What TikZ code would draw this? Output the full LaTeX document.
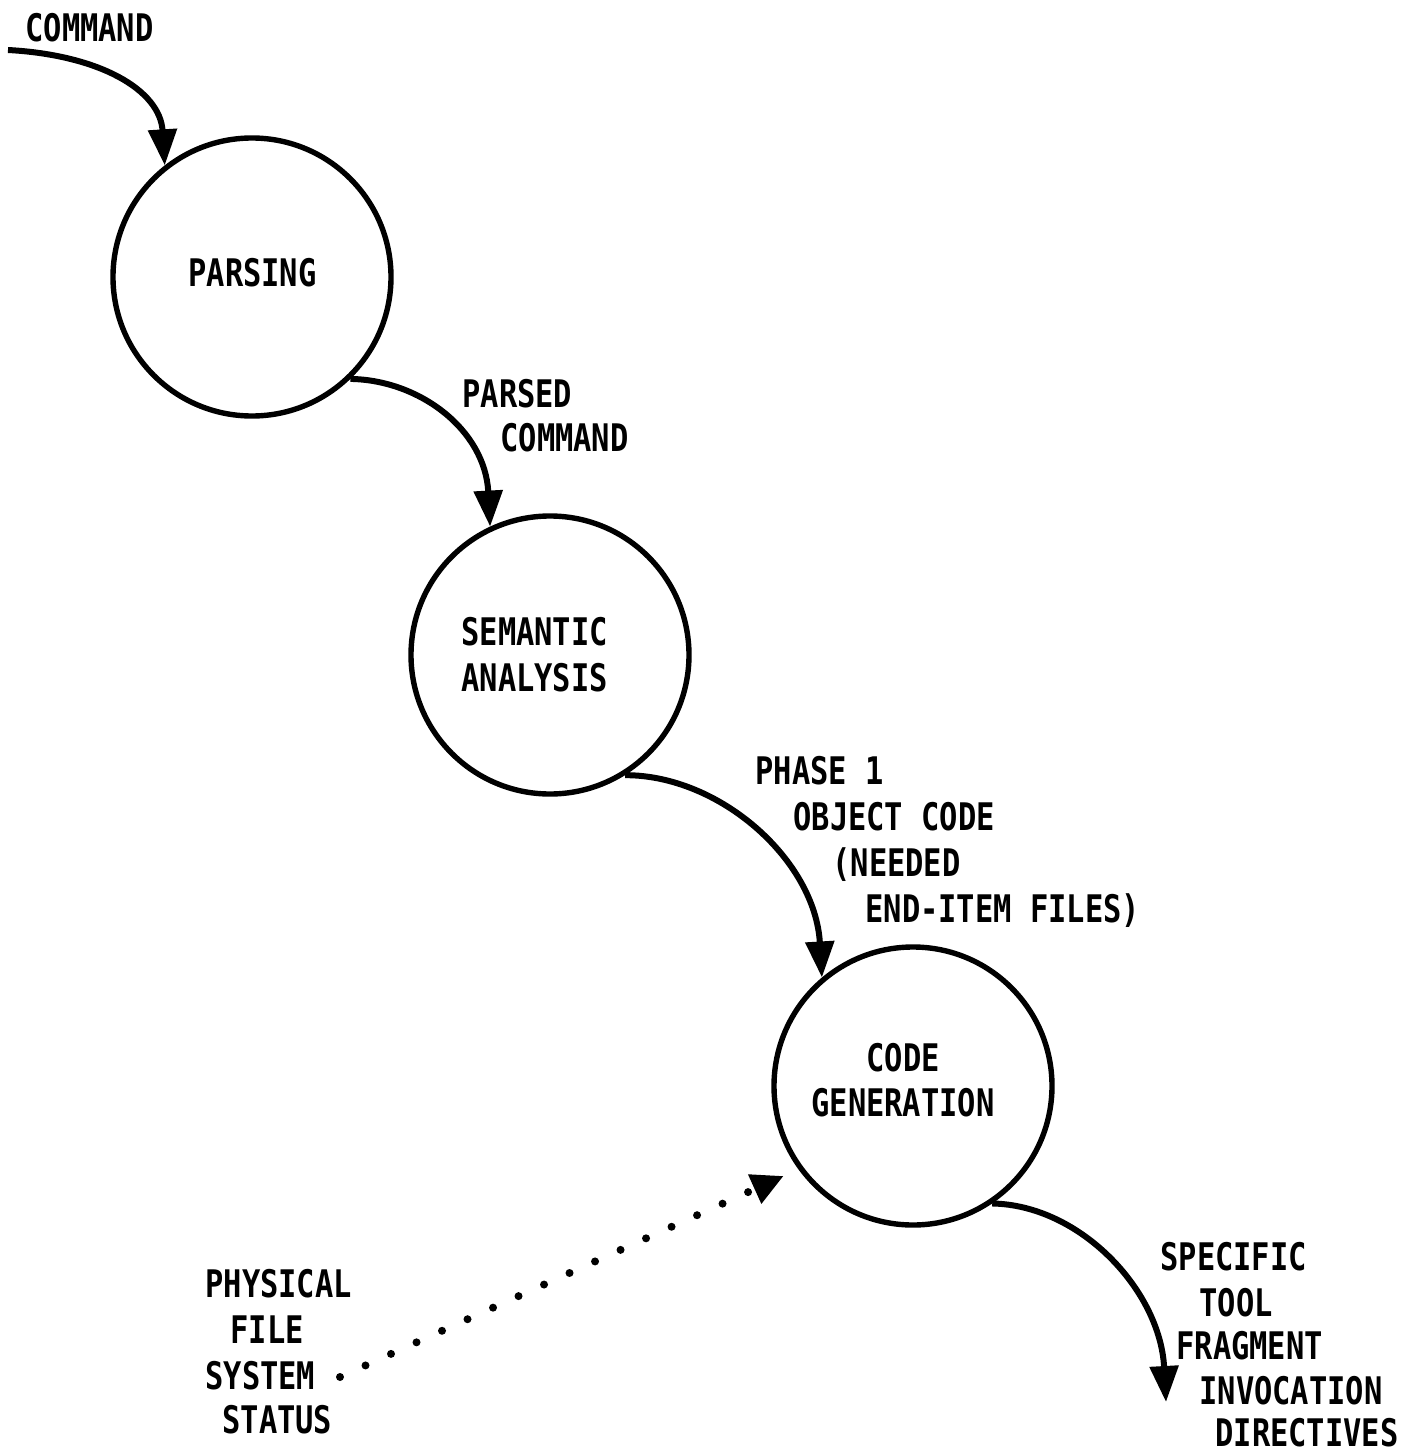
\documentclass[tikz,border=0pt]{standalone}
\usepackage{fontspec}
\newfontfamily\tw[FakeStretch=0.8]{DejaVu Sans Mono}
\usetikzlibrary{arrows.meta}
\begin{document}
\begin{tikzpicture}[x=0.5pt,y=-0.5pt,
  lbl/.style={font=\tw\bfseries\fontsize{19}{23}\selectfont, anchor=base west, inner sep=0pt},
  proc/.style={circle, draw, line width=2.7pt, minimum size=139pt, inner sep=0pt},
  flow/.style={line width=3pt, -{Triangle[length=18pt,width=14pt]}},
  dots/.style={line width=4pt, line cap=round, dash pattern=on 0pt off 14pt, -{Triangle[length=16pt,width=15pt]}}]
\useasboundingbox (0,0) rectangle (1414,1455);
% processes
\node[proc] (p1) at (252,277) {};
\node[proc] (p2) at (550,655) {};
\node[proc] (p3) at (913,1086) {};
\node[lbl] (p1t) at (188,286) {PARSING};
\node[lbl] (p2a) at (461,645) {SEMANTIC};
\node[lbl] (p2b) at (461,691) {ANALYSIS};
\node[lbl] (p3a) at (866,1071) {CODE};
\node[lbl] (p3b) at (811,1116) {GENERATION};
% labels
\node[lbl] (cmd) at (25,42) {COMMAND};
\node[lbl] (pc1) at (462,407) {PARSED};
\node[lbl] (pc2) at (500,451) {COMMAND};
\node[lbl] (ph1) at (755,784) {PHASE 1};
\node[lbl] (ph2) at (793,830) {OBJECT CODE};
\node[lbl] (ph3) at (832,876) {(NEEDED};
\node[lbl] (ph4) at (865,922) {END-ITEM FILES)};
\node[lbl] (st1) at (1160,1270) {SPECIFIC};
\node[lbl] (st2) at (1199,1316) {TOOL};
\node[lbl] (st3) at (1176,1359) {FRAGMENT};
\node[lbl] (st4) at (1199,1404) {INVOCATION};
\node[lbl] (st5) at (1215,1446) {DIRECTIVES};
\node[lbl] (pf1) at (205,1297) {PHYSICAL};
\node[lbl] (pf2) at (230,1343) {FILE};
\node[lbl] (pf3) at (205,1389) {SYSTEM};
\node[lbl] (pf4) at (222,1433) {STATUS};
% connectors
\coordinate (in) at (8,50);
\coordinate (out) at (1166,1402);
\coordinate (ds) at (340,1377);
\draw[flow] (in) .. controls (100,55) and (160,90) .. (p1.128);
\draw[flow] (p1.-46) .. controls (420,380) and (485,430) .. (p2.115);
\draw[flow] (p2.-58) .. controls (720,775) and (815,860) .. (p3.130);
\draw[flow] (p3.-56) .. controls (1080,1205) and (1160,1290) .. (out);
\draw[dots, shorten >=8pt] (ds) -- (p3.216);
\end{tikzpicture}
\end{document}
